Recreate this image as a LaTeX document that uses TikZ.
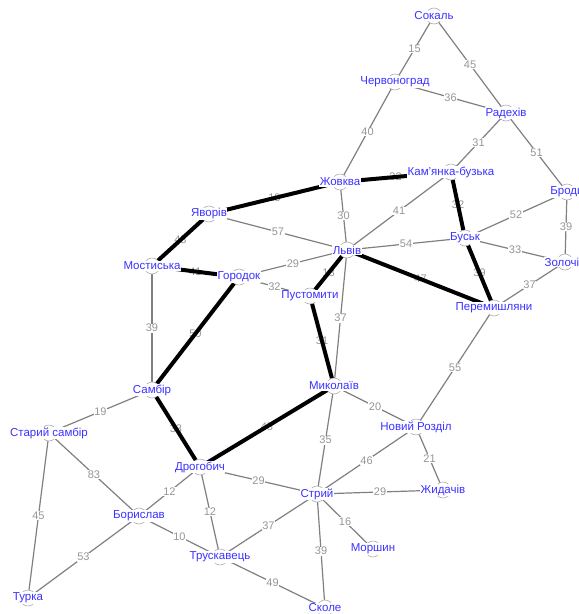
\documentclass[tikz,border=0pt]{standalone}
\usepackage{fontspec}
\setmainfont{Liberation Sans}
\definecolor{vblue}{RGB}{60,50,255}
\definecolor{wgray}{RGB}{150,150,150}
\definecolor{egray}{RGB}{128,128,128}
\definecolor{cgray}{RGB}{175,175,175}
\tikzset{
  edge/.style={draw=egray,line width=1.2pt},
  heavy/.style={draw=black,line width=4pt},
  wt/.style={fill=white,text=wgray,inner sep=0.6pt,font=\fontsize{11}{12}\selectfont},
  vtx/.style={circle,draw=cgray,fill=white,line width=0.6pt,minimum size=16pt,inner sep=0pt},
  lbl/.style={fill=white,text=vblue,inner sep=0.5pt,font=\fontsize{11.5}{13}\selectfont}
}
\begin{document}
\begin{tikzpicture}[x=1pt,y=-1pt]
\useasboundingbox[fill=white] (0,0) rectangle (579,614);
\coordinate (sok) at (434,16);
\coordinate (chv) at (395,82);
\coordinate (rad) at (506,113);
\coordinate (bro) at (567,192);
\coordinate (zhv) at (340,182);
\coordinate (kam) at (451,172);
\coordinate (yav) at (209,214);
\coordinate (lvi) at (347,250);
\coordinate (bus) at (465,238);
\coordinate (zol) at (565,262);
\coordinate (mos) at (152,266);
\coordinate (gor) at (239,277);
\coordinate (pus) at (310,296);
\coordinate (per) at (494,308);
\coordinate (sam) at (152,390);
\coordinate (sts) at (49,433);
\coordinate (dro) at (200,467);
\coordinate (myk) at (334,386);
\coordinate (nrz) at (416,427);
\coordinate (zhy) at (443,490);
\coordinate (str) at (317,494);
\coordinate (mor) at (373,549);
\coordinate (sko) at (325,608);
\coordinate (bor) at (139,516);
\coordinate (tru) at (220,557);
\coordinate (tur) at (28,598);
\def\alledges{sok/chv/15,sok/rad/45,chv/rad/36,chv/zhv/40,rad/kam/31,rad/bro/51,
zhv/kam/32,zhv/yav/18,zhv/lvi/30,kam/lvi/41,kam/bus/32,bro/bus/52,bro/zol/39,
yav/lvi/57,yav/mos/43,lvi/bus/54,bus/zol/33,bus/per/39,zol/per/37,lvi/per/47,
mos/gor/41,mos/sam/39,gor/lvi/29,gor/pus/32,gor/sam/50,lvi/pus/18,lvi/myk/37,
pus/myk/31,per/nrz/55,sam/sts/19,sam/dro/33,myk/dro/45,myk/nrz/20,myk/str/35,
sts/bor/83,sts/tur/45,dro/bor/12,dro/tru/12,dro/str/29,nrz/str/46,nrz/zhy/21,
str/zhy/29,str/mor/16,str/tru/37,str/sko/39,bor/tru/10,bor/tur/53,tru/sko/49}
\foreach \a/\b/\w in \alledges { \draw[edge] (\a) -- (\b); }
\foreach \a/\b/\w in \alledges { \path (\a) -- node[wt]{\w} (\b); }
\foreach \a/\b in {zhv/kam,zhv/yav,kam/bus,yav/mos,bus/per,lvi/per,mos/gor,gor/sam,
lvi/pus,pus/myk,sam/dro,myk/dro} { \draw[heavy] (\a) -- (\b); }
\foreach \n in {sok,chv,rad,bro,zhv,kam,yav,lvi,bus,zol,mos,gor,pus,per,sam,sts,dro,myk,nrz,zhy,str,mor,sko,bor,tru,tur}
  { \node[vtx] (v\n) at (\n) {}; }
\node[lbl] at (vsok) {Сокаль};
\node[lbl] at (vchv) {Червоноград};
\node[lbl] at (vrad) {Радехів};
\node[lbl] at (vbro) {Броди};
\node[lbl] at (vzhv) {Жовква};
\node[lbl] at (vkam) {Кам'янка-бузька};
\node[lbl] at (vyav) {Яворів};
\node[lbl] at (vlvi) {Львів};
\node[lbl] at (vbus) {Буськ};
\node[lbl] at (vzol) {Золочів};
\node[lbl] at (vmos) {Мостиська};
\node[lbl] at (vgor) {Городок};
\node[lbl] at (vpus) {Пустомити};
\node[lbl] at (vper) {Перемишляни};
\node[lbl] at (vsam) {Самбір};
\node[lbl] at (vsts) {Старий самбір};
\node[lbl] at (vdro) {Дрогобич};
\node[lbl] at (vmyk) {Миколаїв};
\node[lbl] at (vnrz) {Новий Розділ};
\node[lbl] at (vzhy) {Жидачів};
\node[lbl] at (vstr) {Стрий};
\node[lbl] at (vmor) {Моршин};
\node[lbl] at (vsko) {Сколе};
\node[lbl] at (vbor) {Борислав};
\node[lbl] at (vtru) {Трускавець};
\node[lbl] at (vtur) {Турка};
\end{tikzpicture}
\end{document}
